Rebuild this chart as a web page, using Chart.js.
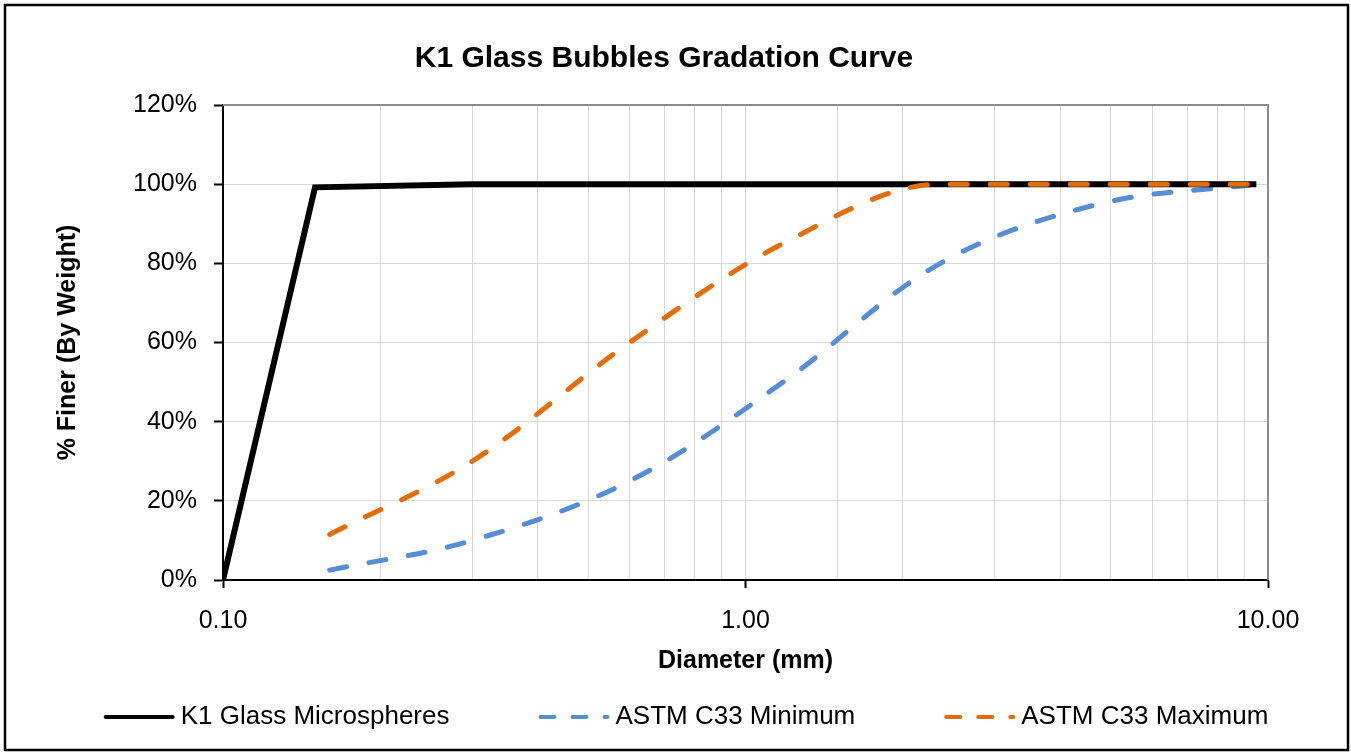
<!DOCTYPE html>
<html>
<head>
<meta charset="utf-8">
<title>K1 Glass Bubbles Gradation Curve</title>
<script src="https://cdn.jsdelivr.net/npm/chart.js@4.4.1/dist/chart.umd.min.js"></script>
<style>
  html, body { margin: 0; padding: 0; background: #fff; }
  canvas { display: block; }
</style>
</head>
<body>
<canvas id="gradation-chart" width="1351" height="753"></canvas>
<script>
// ===== DATA =====
const k1Diameter = [0.1, 0.15, 0.3, 0.6, 1.18, 2.36, 4.75, 9.5];
const k1Finer = [0, 99.2, 100, 100, 100, 100, 100, 100];

const astmDiameter = [0.16, 0.3, 0.6, 1.18, 2.36, 4.75, 9.5];
const astmMinFiner = [2.5, 10, 25, 50, 80, 95, 100];
const astmMaxFiner = [11.5, 30, 60, 85, 100, 100, 100];

const xMajorTicks = [0.1, 1, 10];
const yTicks = [0, 20, 40, 60, 80, 100, 120];

const FONT = '"Liberation Sans", Arial, sans-serif';
const GRID = '#d9d9d9';

function toPoints(xs, ys) {
  return xs.map((x, i) => ({ x, y: ys[i] }));
}

function isMajor(v) {
  return xMajorTicks.some(m => Math.abs(v - m) < 1e-9);
}

// frame around the whole chart + grey top/right plot border
const framePlugin = {
  id: 'frame',
  beforeDatasetsDraw(chart) {
    const { ctx, chartArea: { left, top, right, bottom } } = chart;
    ctx.save();
    ctx.strokeStyle = '#8c8c8c';
    ctx.lineWidth = 2;
    ctx.beginPath();
    ctx.moveTo(left, top);
    ctx.lineTo(right, top);
    ctx.lineTo(right, bottom);
    ctx.stroke();
    ctx.restore();
  },
  afterDraw(chart) {
    const { ctx } = chart;
    ctx.save();
    ctx.strokeStyle = '#000';
    ctx.lineWidth = 2.5;
    ctx.strokeRect(5, 5, 1343, 745);
    ctx.restore();
  },
};

// Excel-style legend spread along the bottom
const bottomLegend = {
  id: 'bottomLegend',
  afterDraw(chart) {
    const { ctx } = chart;
    const lineLen = 71, textGap = 6, itemGap = 89, y = 717;
    ctx.save();
    ctx.font = '26px ' + FONT;
    ctx.textBaseline = 'middle';
    ctx.textAlign = 'left';
    const items = chart.data.datasets.map(ds => ({
      ds,
      w: lineLen + textGap + ctx.measureText(ds.label).width,
    }));
    const total = items.reduce((s, it) => s + it.w, 0) + itemGap * (items.length - 1);
    let x = 686 - total / 2;
    items.forEach(({ ds, w }) => {
      ctx.strokeStyle = ds.borderColor;
      ctx.lineWidth = 4;
      ctx.lineCap = 'round';
      ctx.setLineDash(ds.borderDash && ds.borderDash.length ? [14, 18] : []);
      ctx.beginPath();
      ctx.moveTo(x + 2, y);
      ctx.lineTo(x + lineLen - 2, y);
      ctx.stroke();
      ctx.setLineDash([]);
      ctx.fillStyle = '#000';
      ctx.fillText(ds.label, x + lineLen + textGap, y);
      x += w + itemGap;
    });
    ctx.restore();
  },
};

const canvas = document.getElementById('gradation-chart');

new Chart(canvas.getContext('2d'), {
  type: 'line',
  data: {
    datasets: [
      {
        label: 'K1 Glass Microspheres',
        data: toPoints(k1Diameter, k1Finer),
        borderColor: '#000000',
        borderWidth: 6,
        pointRadius: 0,
        tension: 0,
        order: 0,
      },
      {
        label: 'ASTM C33 Minimum',
        data: toPoints(astmDiameter, astmMinFiner),
        borderColor: '#558ED5',
        borderWidth: 5,
        borderDash: [17, 23],
        borderCapStyle: 'round',
        pointRadius: 0,
        tension: 0.35,
        order: 2,
      },
      {
        label: 'ASTM C33 Maximum',
        data: toPoints(astmDiameter, astmMaxFiner),
        borderColor: '#E46C0A',
        borderWidth: 5,
        borderDash: [17, 23],
        borderCapStyle: 'round',
        pointRadius: 0,
        cubicInterpolationMode: 'monotone',
        order: -1,
      },
    ],
  },
  options: {
    responsive: false,
    animation: false,
    layout: { padding: { top: 0, left: 60, right: 83, bottom: 77 } },
    plugins: {
      legend: { display: false },
      tooltip: { enabled: false },
      title: {
        display: true,
        text: 'K1 Glass Bubbles Gradation Curve',
        color: '#000',
        font: { family: FONT, size: 30, weight: 'bold' },
        padding: { top: 41, bottom: 28 },
      },
    },
    scales: {
      x: {
        type: 'logarithmic',
        min: 0.1,
        max: 10,
        afterFit(scale) { scale.height = 96; },
        border: { color: '#000', width: 2 },
        grid: {
          color: GRID,
          lineWidth: 1,
          tickLength: 8,
          tickWidth: 2,
          tickColor: ctx => (ctx.tick && isMajor(ctx.tick.value) ? '#000' : 'rgba(0,0,0,0)'),
        },
        ticks: {
          autoSkip: false,
          maxRotation: 0,
          padding: 18,
          color: '#000',
          font: { family: FONT, size: 25 },
          callback: v => (isMajor(v) ? Number(v).toFixed(2) : ''),
        },
        title: {
          display: true,
          text: 'Diameter (mm)',
          color: '#000',
          font: { family: FONT, size: 25, weight: 'bold' },
          padding: { top: 0, bottom: 0 },
        },
      },
      y: {
        min: 0,
        max: 120,
        afterFit(scale) { scale.width = 163; },
        afterBuildTicks(scale) { scale.ticks = yTicks.map(v => ({ value: v })); },
        border: { color: '#000', width: 2 },
        grid: {
          color: GRID,
          lineWidth: 1,
          tickLength: 9,
          tickWidth: 2,
          tickColor: '#000',
        },
        ticks: {
          padding: 17,
          color: '#000',
          font: { family: FONT, size: 25 },
          callback: v => v + '%',
        },
        title: {
          display: true,
          text: '% Finer (By Weight)',
          color: '#000',
          font: { family: FONT, size: 25, weight: 'bold' },
          padding: { top: -7, bottom: 0 },
        },
      },
    },
  },
  plugins: [framePlugin, bottomLegend],
});
</script>
</body>
</html>
